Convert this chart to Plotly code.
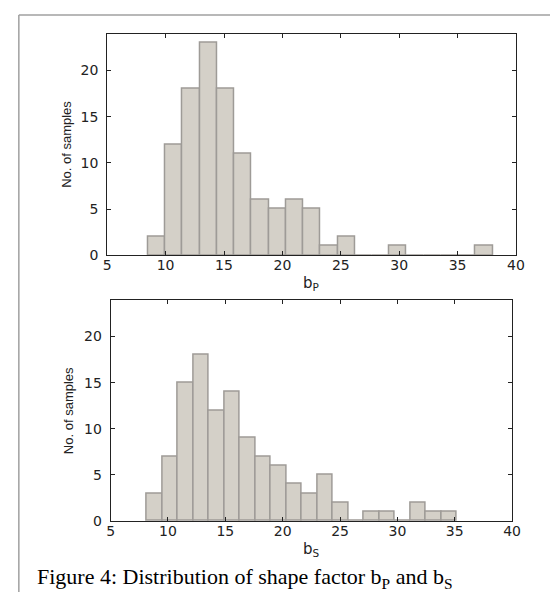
import numpy as np
import plotly.graph_objects as go

# ---- data ----
bp_counts = [2, 12, 18, 23, 18, 11, 6, 5, 6, 5, 1, 2, 0, 0, 1, 0, 0, 0, 0, 1]
bp_min, bp_max = 8.51, 38.02
bs_counts = [3, 7, 15, 18, 12, 14, 9, 7, 6, 4, 3, 5, 2, 0, 1, 1, 0, 2, 1, 1]
bs_min, bs_max = 8.15, 35.21
x_ticks = [5, 10, 15, 20, 25, 30, 35, 40]
y_ticks = [0, 5, 10, 15, 20]
y_title = "No. of samples"
caption = "Figure 4: Distribution of shape factor b<sub>P</sub> and b<sub>S</sub>"

W, H = 558, 592
FILL = "#d4d0c8"
EDGE = "#9e9b97"


def bins(lo, hi, counts):
    n = len(counts)
    edges = np.linspace(lo, hi, n + 1)
    centers = (edges[:-1] + edges[1:]) / 2
    width = (hi - lo) / n
    return centers, width


fig = go.Figure()
for counts, lo, hi, xa, ya in [(bp_counts, bp_min, bp_max, "x", "y"),
                               (bs_counts, bs_min, bs_max, "x2", "y2")]:
    c, w = bins(lo, hi, counts)
    fig.add_trace(go.Bar(x=c, y=counts, width=w, xaxis=xa, yaxis=ya,
                         marker=dict(color=FILL, line=dict(color=EDGE, width=1.5)),
                         showlegend=False, hoverinfo="x+y"))


def px_x(p):
    return p / W


def px_y(p):
    return 1 - p / H


tickfont = dict(family="DejaVu Sans", size=14, color="#222222")
axis_common = dict(showline=True, linecolor="#222222", linewidth=1, mirror="allticks",
                   ticks="inside", ticklen=4, tickcolor="#222222", showgrid=False,
                   zeroline=False, tickfont=tickfont)
xax = dict(axis_common, ticklabelstandoff=-3)
yax = dict(axis_common, ticklabelstandoff=5)

fig.update_layout(
    width=W, height=H, margin=dict(l=0, r=0, t=0, b=0),
    paper_bgcolor="white", plot_bgcolor="white", bargap=0,
    xaxis=dict(domain=[px_x(97.5), px_x(516)], range=[5, 40], tickvals=x_ticks,
               anchor="y", **xax),
    yaxis=dict(domain=[px_y(250.7), px_y(26)], range=[0, 24], tickvals=y_ticks,
               anchor="x", **yax),
    xaxis2=dict(domain=[px_x(101), px_x(512)], range=[5, 40], tickvals=x_ticks,
                anchor="y2", **xax),
    yaxis2=dict(domain=[px_y(520), px_y(295.7)], range=[0, 24], tickvals=y_ticks,
                anchor="x2", **yax),
)

lab = dict(family="Liberation Sans, Arial", size=13, color="#222222")
ann = [
    dict(x=px_x(55), y=px_y(138), text=y_title, textangle=-90, font=lab),
    dict(x=px_x(58), y=px_y(408), text=y_title, textangle=-90, font=lab),
    dict(x=px_x(306), y=px_y(279), text="b<sub>P</sub>", font=dict(family="DejaVu Sans", size=15, color="#222222")),
    dict(x=px_x(307), y=px_y(549), text="b<sub>S</sub>", font=dict(family="DejaVu Sans", size=15, color="#222222")),
    dict(x=px_x(24), y=px_y(578), text=caption, xanchor="left",
         font=dict(family="Liberation Serif, Times New Roman", size=22, color="black")),
]
for a in ann:
    a.setdefault("xanchor", "center")
    a.update(xref="paper", yref="paper", yanchor="middle", showarrow=False)
fig.update_layout(annotations=ann)

fig.update_layout(shapes=[
    dict(type="line", xref="paper", yref="paper", x0=px_x(7), x1=1, y0=px_y(7), y1=px_y(7),
         line=dict(color="#a0a0a0", width=1.5)),
    dict(type="line", xref="paper", yref="paper", x0=px_x(7), x1=px_x(7), y0=0, y1=px_y(7),
         line=dict(color="#a0a0a0", width=1.5)),
])

fig.write_html("out.html")
